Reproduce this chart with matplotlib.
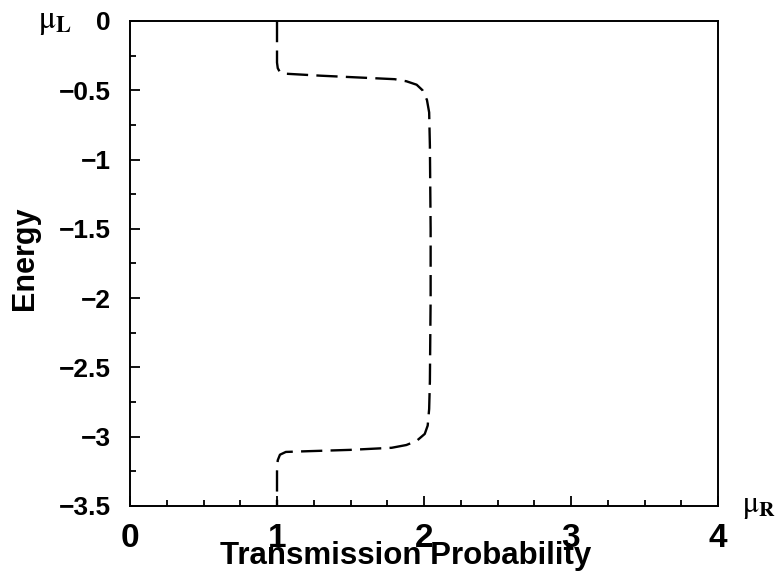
import numpy as np
import matplotlib.pyplot as plt
from matplotlib.ticker import MultipleLocator

# transmission curve (x = transmission, y = energy)
trans = [1.0, 1.0, 1.005, 1.02, 1.05, 1.3, 1.6, 1.8, 1.88, 1.95, 1.99, 2.02,
         2.035, 2.04, 2.045, 2.045, 2.04, 2.035, 2.025, 2.005, 1.95, 1.88,
         1.78, 1.5, 1.2, 1.06, 1.02, 1.005, 1.0, 1.0]
energy = [0.0, -0.30, -0.34, -0.37, -0.38, -0.395, -0.41, -0.42, -0.435, -0.46,
          -0.5, -0.57, -0.66, -0.9, -1.5, -2.0, -2.6, -2.8, -2.92, -2.98,
          -3.03, -3.06, -3.08, -3.095, -3.105, -3.11, -3.13, -3.17, -3.25, -3.5]

xticks = [0, 1, 2, 3, 4]
yticks = [0, -0.5, -1, -1.5, -2, -2.5, -3, -3.5]
ytick_labels = ["0", "\u22120.5", "\u22121", "\u22121.5", "\u22122", "\u22122.5", "\u22123", "\u22123.5"]

plt.rcParams['font.family'] = ['Liberation Sans', 'DejaVu Sans']
plt.rcParams['mathtext.fontset'] = 'stix'

fig = plt.figure(figsize=(7.79, 5.78), dpi=100)
ax = fig.add_axes([0.1669, 0.1246, 0.9217 - 0.1669, 0.9637 - 0.1246])

ax.plot(trans, energy, color='black', lw=1.7, linestyle=(0, (9, 3.5)))

ax.set_xlim(0, 4)
ax.set_ylim(-3.5, 0)
ax.set_xticks(xticks)
ax.set_xticklabels([str(t) for t in xticks], fontsize=24, fontweight='bold')
ax.set_yticks(yticks)
ax.set_yticklabels(ytick_labels, fontsize=19, fontweight='bold')
ax.xaxis.set_minor_locator(MultipleLocator(0.25))
ax.yaxis.set_minor_locator(MultipleLocator(0.25))
ax.tick_params(which='both', direction='in', width=1.3, top=False, right=False)
ax.tick_params(which='major', length=7)
ax.tick_params(which='minor', length=4)
ax.tick_params(axis='x', pad=12)
ax.tick_params(axis='y', pad=14)
for s in ax.spines.values():
    s.set_linewidth(1.4)

fig.text(0.521, 0.038, 'Transmission Probability', fontsize=22.5, fontweight='bold',
         ha='center', va='center')
fig.text(0.032, 0.553, 'Energy', fontsize=22, fontweight='bold', rotation=90,
         ha='center', va='center')

fig.text(0.049, 0.962, r'$\mathrm{\mu}_{\mathbf{L}}$', fontsize=23, ha='left', va='center')
fig.text(0.953, 0.124, r'$\mathrm{\mu}_{\mathbf{R}}$', fontsize=22, ha='left', va='center')

fig.savefig('out.png', dpi=100)
